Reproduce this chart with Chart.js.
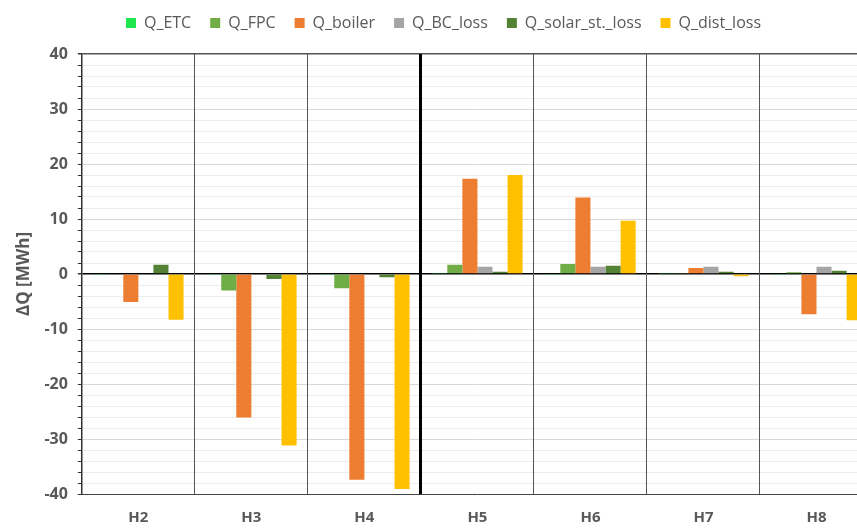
<!DOCTYPE html>
<html>
<head>
<meta charset="utf-8">
<script src="https://cdn.jsdelivr.net/npm/chart.js@4/dist/chart.umd.min.js"></script>
<style>
  html, body { margin: 0; padding: 0; background: #fff; overflow: hidden; }
  #wrap { width: 874px; height: 542px; }
</style>
</head>
<body>
<div id="wrap"><canvas id="dq"></canvas></div>
<script>
const categories = ["H2", "H3", "H4", "H5", "H6", "H7", "H8"];
const seriesNames = ["Q_ETC", "Q_FPC", "Q_boiler", "Q_BC_loss", "Q_solar_st._loss", "Q_dist_loss"];
const qEtc = [-0.1, -0.1, -0.2, 0.1, -0.1, 0.1, -0.2];
const qFpc = [0.0, -3.0, -2.6, 1.7, 1.8, 0.1, 0.3];
const qBoiler = [-5.1, -26.1, -37.4, 17.3, 13.9, 1.1, -7.3];
const qBcLoss = [0.0, 0.0, 0.0, 1.3, 1.3, 1.3, 1.3];
const qSolarSt = [1.7, -0.9, -0.6, 0.4, 1.5, 0.4, 0.6];
const qDistLoss = [-8.3, -31.2, -39.1, 18.0, 9.7, -0.4, -8.4];
const colors = ["#1ee84e", "#70ad47", "#ed7d31", "#a5a5a5", "#548235", "#ffc000"];

const values = [qEtc, qFpc, qBoiler, qBcLoss, qSolarSt, qDistLoss];
const fontFam = "'Open Sans', 'Noto Sans', sans-serif";

const datasets = seriesNames.map(function (name, i) {
  return {
    label: name,
    data: values[i],
    backgroundColor: colors[i],
    borderColor: colors[i],
    borderWidth: 0
  };
});

// extra room under the legend
const legendGap = {
  id: "legendGap",
  beforeInit: function (chart) {
    const fit = chart.legend.fit;
    chart.legend.fit = function () {
      fit.bind(chart.legend)();
      this.height += 13;
    };
  }
};

new Chart(document.getElementById("dq"), {
  type: "bar",
  data: { labels: categories, datasets: datasets },
  plugins: [legendGap],
  options: {
    responsive: true,
    maintainAspectRatio: false,
    animation: false,
    datasets: { bar: { categoryPercentage: 0.8, barPercentage: 1.0 } },
    layout: { padding: { top: -4, right: 1, bottom: 0, left: 14 } },
    plugins: {
      legend: {
        position: "top",
        labels: {
          boxWidth: 10,
          boxHeight: 10,
          padding: 19,
          color: "#595959",
          font: { family: fontFam, size: 16 }
        }
      },
      tooltip: { enabled: false }
    },
    scales: {
      x: {
        grid: {
          offset: true,
          drawTicks: false,
          color: function (ctx) { return ctx.index === 3 ? "#000" : "#555"; },
          lineWidth: function (ctx) { return ctx.index === 3 ? 3 : 1; }
        },
        border: { display: true, color: "#444", width: 1 },
        ticks: {
          padding: 15,
          color: "#595959",
          font: { family: fontFam, size: 15, weight: "bold" }
        }
      },
      y: {
        min: -40,
        max: 40,
        title: {
          display: true,
          text: "ΔQ [MWh]",
          color: "#595959",
          padding: { top: 0, bottom: 0 },
          font: { family: fontFam, size: 17, weight: "bold" }
        },
        grid: {
          z: -2,
          tickLength: 4,
          tickColor: "#333",
          color: function (ctx) {
            const v = ctx.tick ? ctx.tick.value : null;
            if (v === 0) return "#000";
            if (v === 40) return "#555";
            if (v % 10 === 0) return "#d9d9d9";
            return "#ececec";
          },
          lineWidth: function (ctx) {
            const v = ctx.tick ? ctx.tick.value : null;
            if (v === 0) return 1.5;
            if (v === 40) return 1.5;
            return 1;
          }
        },
        border: { display: true, color: "#333", width: 1.5 },
        ticks: {
          stepSize: 2,
          autoSkip: false,
          padding: 10,
          color: "#595959",
          font: { family: fontFam, size: 16, weight: "bold" },
          callback: function (v) { return v % 10 === 0 ? v : ""; }
        }
      }
    }
  }
});
</script>
</body>
</html>
